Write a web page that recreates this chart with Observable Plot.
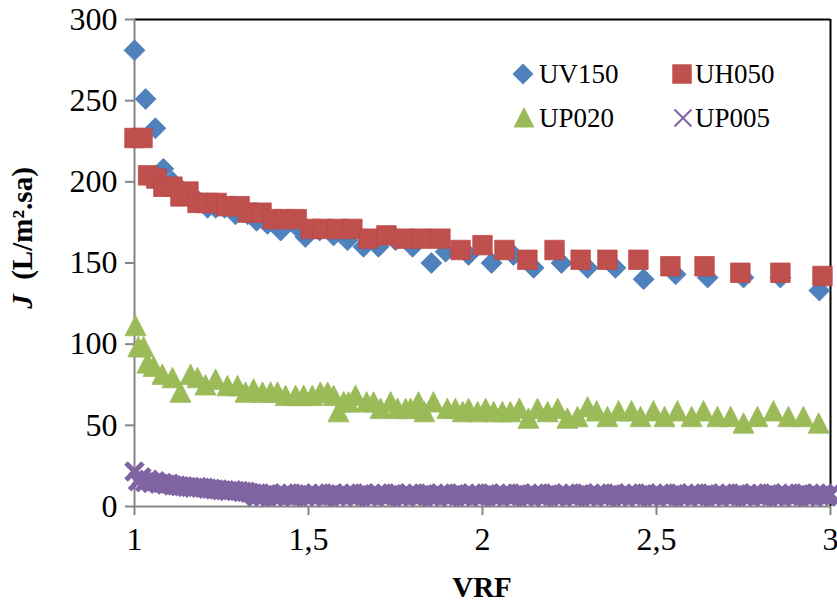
<!DOCTYPE html>
<html>
<head>
<meta charset="utf-8">
<script src="https://cdn.jsdelivr.net/npm/d3@7"></script>
<script src="https://cdn.jsdelivr.net/npm/@observablehq/plot@0.6"></script>
<style>
  html, body { margin: 0; padding: 0; background: #fff; }
  #chart { width: 837px; height: 603px; overflow: hidden; }
  #chart svg text { font-family: "Liberation Serif", "Times New Roman", Times, serif; }
</style>
</head>
<body>
<div id="chart"></div>
<script>
// ---- Data ----
const seriesNames = ["UV150", "UH050", "UP020", "UP005"];
const xTicks = [1, 1.5, 2, 2.5, 3];
const yTicks = [0, 50, 100, 150, 200, 250, 300];

const uv150_vrf = [1.000, 1.032, 1.060, 1.083, 1.109, 1.135, 1.158, 1.184, 1.210, 1.233, 1.259, 1.290, 1.325, 1.351, 1.382, 1.420, 1.468, 1.491, 1.532, 1.572, 1.612, 1.658, 1.701, 1.750, 1.799, 1.853, 1.894, 1.960, 2.026, 2.089, 2.147, 2.227, 2.302, 2.382, 2.463, 2.555, 2.647, 2.750, 2.856, 2.968];
const uv150_J   = [281, 251, 233, 208, 200, 195, 191, 188, 184, 184, 184, 180, 180, 176, 174, 170, 172, 166, 170, 167, 164, 160, 160, 164, 160, 150, 157, 155, 150, 155, 147, 150, 147, 147, 140, 143, 141, 141, 141, 133];

const uh050_vrf = [1.000, 1.023, 1.039, 1.063, 1.083, 1.109, 1.132, 1.155, 1.181, 1.210, 1.236, 1.264, 1.302, 1.326, 1.365, 1.397, 1.431, 1.466, 1.506, 1.540, 1.583, 1.626, 1.672, 1.724, 1.773, 1.825, 1.879, 1.937, 2.000, 2.063, 2.129, 2.207, 2.282, 2.359, 2.448, 2.540, 2.638, 2.741, 2.856, 2.977];
const uh050_J   = [227, 227, 204, 202, 197, 197, 191, 194, 187, 187, 187, 185, 185, 181, 181, 177, 177, 177, 171, 171, 171, 171, 165, 167, 165, 165, 165, 158, 161, 158, 152, 158, 152, 152, 152, 148, 148, 144, 144, 142];

const up020_vrf = [1.003, 1.011, 1.026, 1.037, 1.055, 1.080, 1.109, 1.132, 1.161, 1.181, 1.204, 1.233, 1.267, 1.296, 1.319, 1.342, 1.368, 1.391, 1.411, 1.434, 1.463, 1.486, 1.511, 1.534, 1.555, 1.572, 1.586, 1.601, 1.615, 1.635, 1.667, 1.687, 1.707, 1.736, 1.756, 1.779, 1.793, 1.816, 1.833, 1.859, 1.899, 1.922, 1.943, 1.960, 1.986, 2.009, 2.032, 2.057, 2.080, 2.106, 2.132, 2.158, 2.187, 2.216, 2.244, 2.273, 2.302, 2.328, 2.359, 2.391, 2.428, 2.454, 2.491, 2.523, 2.560, 2.601, 2.635, 2.675, 2.713, 2.750, 2.790, 2.836, 2.879, 2.922, 2.966];
const up020_J   = [111, 98, 98, 88, 86, 81, 79, 70, 81, 79, 74.5, 78, 74, 74, 70, 72, 70, 70, 70, 68, 68, 68, 68, 70, 70, 68, 58, 64, 64, 68, 64, 64, 60, 64, 60, 60, 60, 64, 58, 64, 60, 60, 58, 60, 58, 60, 58, 58, 58, 60, 54, 60, 58, 60, 54, 55, 61, 58.5, 55, 58.5, 58.5, 55, 58.5, 55, 58.5, 55, 58.5, 55, 55, 51, 55, 58.5, 55, 55, 51];

const up005_vrf = [
  1.00, 1.01, 1.02, 1.03, 1.04, 1.05, 1.06, 1.07, 1.08, 1.09, 1.10, 1.11, 1.12, 1.13, 1.14, 1.15, 1.16, 1.17, 1.18, 1.19,
  1.20, 1.21, 1.22, 1.23, 1.24, 1.25, 1.26, 1.27, 1.28, 1.29, 1.30, 1.31, 1.32, 1.33, 1.34, 1.35, 1.36, 1.37, 1.38, 1.39,
  1.40, 1.41, 1.42, 1.43, 1.44, 1.45, 1.46, 1.47, 1.48, 1.49, 1.50, 1.51, 1.52, 1.53, 1.54, 1.55, 1.56, 1.57, 1.58, 1.59,
  1.60, 1.61, 1.62, 1.63, 1.64, 1.65, 1.66, 1.67, 1.68, 1.69, 1.70, 1.71, 1.72, 1.73, 1.74, 1.75, 1.76, 1.77, 1.78, 1.79,
  1.80, 1.81, 1.82, 1.83, 1.84, 1.85, 1.86, 1.87, 1.88, 1.89, 1.90, 1.91, 1.92, 1.93, 1.94, 1.95, 1.96, 1.97, 1.98, 1.99,
  2.00, 2.01, 2.02, 2.03, 2.04, 2.05, 2.06, 2.07, 2.08, 2.09, 2.10, 2.11, 2.12, 2.13, 2.14, 2.15, 2.16, 2.17, 2.18, 2.19,
  2.20, 2.21, 2.22, 2.23, 2.24, 2.25, 2.26, 2.27, 2.28, 2.29, 2.30, 2.31, 2.32, 2.33, 2.34, 2.35, 2.36, 2.37, 2.38, 2.39,
  2.40, 2.41, 2.42, 2.43, 2.44, 2.45, 2.46, 2.47, 2.48, 2.49, 2.50, 2.51, 2.52, 2.53, 2.54, 2.55, 2.56, 2.57, 2.58, 2.59,
  2.60, 2.61, 2.62, 2.63, 2.64, 2.65, 2.66, 2.67, 2.68, 2.69, 2.70, 2.71, 2.72, 2.73, 2.74, 2.75, 2.76, 2.77, 2.78, 2.79,
  2.80, 2.81, 2.82, 2.83, 2.84, 2.85, 2.86, 2.87, 2.88, 2.89, 2.90, 2.91, 2.92, 2.93, 2.94, 2.95, 2.96, 2.97, 2.98, 2.99,
  3.00];
const up005_J = [
  21.5, 15.5, 18, 15, 16.5, 14.5, 15.5, 14, 14.5, 13.5, 14, 13, 13, 12.5, 12.5, 12, 12, 11.5, 12, 11.5,
  11.5, 11, 11, 10.5, 10.5, 10, 10, 9.5, 10, 9.5, 9.5, 9, 9, 8.5,
  8, 6, 8, 6, 7.5, 8, 6, 7, 6, 8,
  6.5, 8, 6, 7, 8, 6, 7.5, 6, 8, 6.5,
  8, 6, 7, 8, 6, 7.5, 6, 8, 6.5, 8,
  6, 7.5, 8, 6, 7, 6, 8, 6.5, 8, 6,
  7.5, 8, 6, 7, 6, 8, 6.5, 8, 6, 7.5,
  8, 6, 7, 6, 8, 6.5, 8, 6, 7.5, 8,
  6, 7, 6, 8, 6.5, 8, 6, 7.5, 8, 6,
  7, 6, 8, 6.5, 8, 6, 7.5, 8, 6, 7,
  6, 8, 6.5, 8, 6, 7.5, 8, 6, 7, 6,
  8, 6.5, 8, 6, 7.5, 8, 6, 7, 6, 8,
  6.5, 8, 6, 7.5, 8, 6, 7, 6, 8, 6.5,
  8, 6, 7.5, 8, 6, 7, 6, 8, 6.5, 8,
  6, 7.5, 8, 6, 7, 6, 8, 6.5, 8, 6,
  7.5, 8, 6, 7, 6, 8, 6.5, 8, 6, 7.5,
  8, 6, 7, 6, 8, 6.5, 8, 6, 7.5, 8,
  6, 7, 6, 8, 6.5, 8, 6, 7.5, 8, 6,
  7, 6, 8, 6.5, 8, 6, 7.5];

const colors = {UV150: "#4F81BD", UH050: "#C0504D", UP020: "#9BBB59", UP005: "#8064A2"};

// ---- Marker shapes (Excel style) ----
const diamondSym = {draw(c) { const h = 10.5; c.moveTo(0, -h); c.lineTo(h, 0); c.lineTo(0, h); c.lineTo(-h, 0); c.closePath(); }};
const squareSym = {draw(c) { const h = 9.75; c.moveTo(-h, -h); c.lineTo(h, -h); c.lineTo(h, h); c.lineTo(-h, h); c.closePath(); }};
const triangleSym = {draw(c) { c.moveTo(0, -11); c.lineTo(10.5, 9.5); c.lineTo(-10.5, 9.5); c.closePath(); }};
const crossSym = {draw(c) { const h = 8.5; c.moveTo(-h, -h); c.lineTo(h, h); c.moveTo(-h, h); c.lineTo(h, -h); }};

const toRows = (xs, ys) => xs.map((x, i) => ({x, y: ys[i]}));
const fmt = d => String(d).replace(".", ",");
const FONT = "Liberation Serif, Times New Roman, serif";

const chart = Plot.plot({
  width: 837,
  height: 603,
  marginLeft: 134,
  marginRight: 7,
  marginTop: 19,
  marginBottom: 97,
  style: {fontFamily: FONT, fontSize: "32px", color: "black", background: "white", overflow: "visible"},
  x: {domain: [1, 3]},
  y: {domain: [0, 300]},
  marks: [
    Plot.ruleY([300], {stroke: "black", strokeWidth: 2}),
    Plot.ruleX([3], {stroke: "black", strokeWidth: 2}),
    Plot.axisX({ticks: xTicks, tickFormat: fmt, tickSize: 9, tickPadding: 12, stroke: "#868686", fill: "black", strokeWidth: 2, fontFamily: FONT, fontSize: 32, label: null}),
    Plot.axisY({ticks: yTicks, tickSize: 9, tickPadding: 8, stroke: "#868686", fill: "black", strokeWidth: 2, fontFamily: FONT, fontSize: 32, label: null}),
    Plot.ruleX([1], {stroke: "#868686", strokeWidth: 2}),
    Plot.ruleY([0], {stroke: "#868686", strokeWidth: 2}),
    Plot.dot(toRows(uv150_vrf, uv150_J), {x: "x", y: "y", symbol: diamondSym, r: 10, fill: colors.UV150, stroke: "#4A7EBB", strokeWidth: 0.75}),
    Plot.dot(toRows(uh050_vrf, uh050_J), {x: "x", y: "y", symbol: squareSym, r: 10, fill: colors.UH050, stroke: "#B94A48", strokeWidth: 0.75}),
    Plot.dot(toRows(up020_vrf, up020_J), {x: "x", y: "y", symbol: triangleSym, r: 10, fill: colors.UP020, stroke: "#98B954", strokeWidth: 0.75}),
    Plot.dot(toRows(up005_vrf, up005_J), {x: "x", y: "y", symbol: crossSym, r: 10, fill: "none", stroke: colors.UP005, strokeWidth: 5})
  ]
});

document.getElementById("chart").appendChild(chart);

// ---- Titles and legend ----
const svg = d3.select(chart);
const yTitle = svg.append("text")
  .attr("transform", "translate(32,238) rotate(-90)")
  .attr("text-anchor", "middle")
  .attr("font-size", 29)
  .attr("font-weight", "bold")
  .attr("fill", "black");
yTitle.append("tspan").attr("font-style", "italic").text("J");
yTitle.append("tspan").text("\u00a0\u00a0(L/m\u00b2.sa)");

svg.append("text")
  .attr("x", 482).attr("y", 597)
  .attr("text-anchor", "middle")
  .attr("font-size", 29)
  .attr("font-weight", "bold")
  .attr("fill", "black")
  .text("VRF");

const legendItems = [
  {name: seriesNames[0], sym: diamondSym, fill: colors.UV150, stroke: "none", sw: 0, lx: 523, ly: 74, tx: 539},
  {name: seriesNames[1], sym: squareSym, fill: colors.UH050, stroke: "none", sw: 0, lx: 682, ly: 74, tx: 695},
  {name: seriesNames[2], sym: triangleSym, fill: colors.UP020, stroke: "none", sw: 0, lx: 524, ly: 118, tx: 539},
  {name: seriesNames[3], sym: crossSym, fill: "none", stroke: colors.UP005, sw: 2, lx: 683, ly: 118, tx: 695}
];
const lg = svg.append("g");
for (const it of legendItems) {
  lg.append("path")
    .attr("d", d3.symbol().type(it.sym)())
    .attr("transform", `translate(${it.lx},${it.ly})`)
    .attr("fill", it.fill)
    .attr("stroke", it.stroke)
    .attr("stroke-width", it.sw);
  lg.append("text")
    .attr("x", it.tx).attr("y", it.ly)
    .attr("dy", "0.34em")
    .attr("text-anchor", "start")
    .attr("font-size", 27)
    .attr("fill", "black")
    .text(it.name);
}
</script>
</body>
</html>
